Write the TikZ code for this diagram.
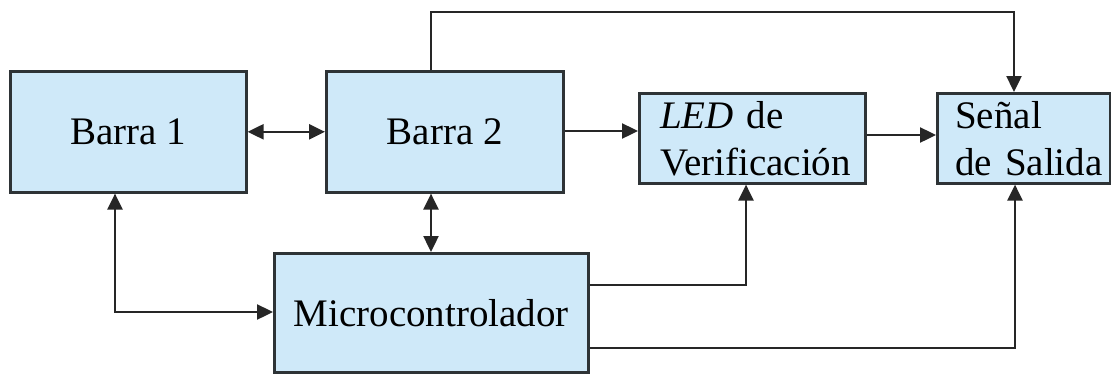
\documentclass[tikz,border=0pt]{standalone}
\usepackage{fontspec}
\setmainfont{Liberation Serif}
\usetikzlibrary{arrows.meta}
\definecolor{boxfill}{HTML}{CFE9F9}
\definecolor{boxline}{HTML}{2E3336}
\definecolor{wireline}{HTML}{262626}
\begin{document}
\begin{tikzpicture}[x=1pt,y=-1pt,
  blk/.style={draw=boxline,fill=boxfill,line width=2.6pt,anchor=north west,inner sep=0pt,
    font=\fontsize{39}{47}\selectfont},
  wire/.style={draw=wireline,line width=2.4pt,
    arrows={-{Triangle[length=16pt,width=15pt]}}},
  dwire/.style={draw=wireline,line width=2.4pt,
    arrows={{Triangle[length=16pt,width=15pt]}-{Triangle[length=16pt,width=15pt]}}}]
\useasboundingbox (0,0) rectangle (1111,373);
\fill[white] (0,0) rectangle (1111,373);
% boxes
\node[blk,minimum width=236pt,minimum height=121pt] (b1) at (9,70) {Barra 1};
\node[blk,minimum width=237pt,minimum height=121pt] (b2) at (325,70) {Barra 2};
\node[blk,minimum width=226pt,minimum height=90pt,text width=184pt,inner xsep=21pt,align=left] (led) at (638,92)
  {\mbox{\textit{LED} de}\\\mbox{Verificación}};
\node[blk,minimum width=173pt,minimum height=90pt,text width=137pt,inner xsep=18pt,align=left] (sen) at (936,92)
  {\mbox{Señal}\\\mbox{de Salida}};
\node[blk,minimum width=314pt,minimum height=119pt] (mc) at (273,252) {Microcontrolador};
% routing points
\coordinate (t1) at (431,12);
\coordinate (t2) at (1014,12);
\coordinate (c1) at (115,312);
\coordinate (c2) at (746,285);
\coordinate (c3) at (1015,348);
% connectors
\draw[dwire] (b1.east) -- (b2.west);
\draw[wire] (b2.east |- 0,131) -- (led.west |- 0,131);
\draw[wire] (led.east |- 0,135) -- (sen.west |- 0,135);
\draw[wire] (b2.north -| t1) -- (t1) -- (t2) -- (t2 |- sen.north);
\draw[dwire] (b2.south -| t1) -- (mc.north -| t1);
\draw[dwire] (b1.south -| c1) -- (c1) -- (c1 -| mc.west);
\draw[wire] (c2 -| mc.east) -- (c2) -- (c2 |- led.south);
\draw[wire] (c3 -| mc.east) -- (c3) -- (c3 |- sen.south);
\end{tikzpicture}
\end{document}
